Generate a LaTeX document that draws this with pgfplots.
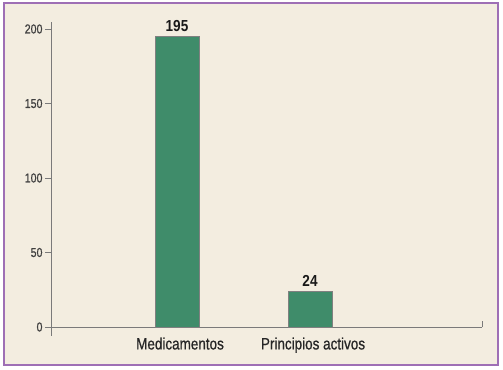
\documentclass[border=0pt]{standalone}
\usepackage{pgfplots}
\pgfplotsset{compat=1.18}
\usepackage{fontspec}
\setmainfont{Liberation Sans}[FakeStretch=0.82, UprightFeatures={FakeBold=0.7}]
\newfontfamily\boldlab{Liberation Sans Bold}[FakeStretch=0.85]
\usetikzlibrary{backgrounds}
\definecolor{bg}{HTML}{F3EDE0}
\definecolor{frame}{HTML}{9E6FB5}
\definecolor{bar}{HTML}{3F8C6A}
\definecolor{axisgray}{HTML}{7A7A7A}
\begin{document}
\begin{tikzpicture}
\begin{axis}[
  scale only axis,
  width=431bp, height=305bp,
  xmin=0.0526, xmax=3.293,
  ymin=0, ymax=204.7,
  axis x line=bottom, axis y line=left,
  axis line style={-, draw=axisgray, line width=0.8bp},
  ytick={0,50,100,150,200},
  xtick={1,2},
  xticklabels={Medicamentos, Principios activos},
  x tick label style={font=\fontsize{16.5}{18}\selectfont, text=black!85, yshift=-1bp, xshift=3bp},
  y tick label style={font=\fontsize{13}{15}\selectfont, text=black!75, xshift=1bp},
  /pgf/number format/assume math mode=true,
  tick style={draw=axisgray, line width=0.8bp},
  x tick style={draw=none},
  major tick length=6bp,
  tick align=outside,
  ybar, bar width=44bp,
  clip=false,
  nodes near coords,
  every node near coord/.append style={font=\fontsize{16}{18}\selectfont\boldlab, text=black!90, yshift=1bp},
]
\addplot[fill=bar, draw=black!50, line width=0.6bp] coordinates {(1,195) (2,24)};
\draw[axisgray, line width=0.8bp] (axis cs:0.0526,0) -- ([yshift=-9bp]axis cs:0.0526,0);
\draw[axisgray, line width=0.8bp] (axis cs:3.293,0) -- ([yshift=6bp]axis cs:3.293,0);
\end{axis}
\begin{scope}[on background layer]
\draw[frame, line width=1.6bp, fill=bg] ([shift={(-47bp,-38bp)}]current axis.south west) rectangle ([shift={(16bp,19bp)}]current axis.north east);
\end{scope}
\path ([shift={(-51bp,-43bp)}]current axis.south west) rectangle ([shift={(21bp,22bp)}]current axis.north east);
\end{tikzpicture}
\end{document}
